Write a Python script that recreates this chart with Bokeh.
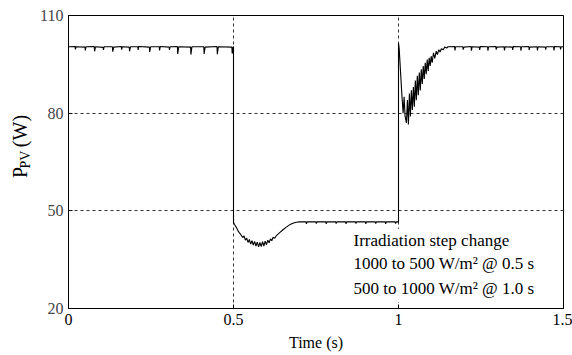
import math
from bokeh.plotting import figure
from bokeh.layouts import row
from bokeh.models import Range1d, FixedTicker, Label, BoxAnnotation, NumeralTickFormatter
from bokeh.embed import file_html
from bokeh.resources import INLINE

# ---------------- data ----------------
x_ticks = [0, 0.5, 1.0, 1.5]
x_tick_format = "0.[0]"          # gives 0, 0.5, 1, 1.5
y_ticks = [20, 50, 80, 110]

# 0 - 0.5 s : 1000 W/m^2, steady ~100 W with small dips
seg1_t = [0, 0.02, 0.021, 0.023, 0.05, 0.051, 0.053, 0.078, 0.079, 0.082,
          0.105, 0.106, 0.108, 0.133, 0.134, 0.137, 0.16, 0.161, 0.163,
          0.184, 0.185, 0.188, 0.21, 0.211, 0.213, 0.245, 0.246, 0.249,
          0.275, 0.276, 0.278, 0.305, 0.306, 0.308, 0.33, 0.331, 0.334,
          0.37, 0.371, 0.374, 0.41, 0.411, 0.414, 0.45, 0.451, 0.454,
          0.495, 0.496, 0.499, 0.5]
seg1_p = [100.4, 100.5, 99.6, 100.4, 100.3, 99.3, 100.4, 100.5, 99.0, 100.4,
          100.2, 99.4, 100.4, 100.4, 98.9, 100.3, 100.5, 99.5, 100.4,
          100.3, 99.0, 100.4, 100.4, 99.4, 100.5, 100.3, 98.8, 100.4,
          100.4, 99.3, 100.5, 100.3, 99.4, 100.4, 100.5, 98.2, 100.4,
          100.3, 98.0, 100.4, 100.4, 98.2, 100.3, 100.5, 98.1, 100.4,
          100.3, 98.3, 100.4, 100.4]

# 0.5 - 1.0 s : 500 W/m^2
seg2_t = [0.5, 0.503, 0.508, 0.513, 0.518, 0.523, 0.528, 0.532, 0.536, 0.540,
          0.544, 0.548, 0.552, 0.556, 0.560, 0.564, 0.568, 0.572, 0.576,
          0.580, 0.584, 0.588, 0.592, 0.596, 0.600, 0.604, 0.608, 0.612,
          0.616, 0.620, 0.625, 0.630, 0.64, 0.65, 0.66, 0.67, 0.68, 0.69,
          0.70, 0.72, 0.721, 0.723, 0.75, 0.751, 0.753, 0.78, 0.781, 0.783,
          0.81, 0.811, 0.813, 0.84, 0.841, 0.843, 0.87, 0.871, 0.873,
          0.90, 0.901, 0.903, 0.93, 0.931, 0.933, 0.96, 0.961, 0.963,
          0.99, 0.991, 0.993, 1.0]
seg2_p = [46.5, 45.8, 45.0, 44.0, 43.2, 42.6, 41.8, 42.3, 41.0, 41.6,
          40.3, 41.2, 39.8, 40.8, 39.5, 40.6, 39.2, 40.4, 38.9,
          40.3, 39.0, 40.5, 39.2, 40.7, 39.6, 41.0, 40.2, 41.4,
          40.8, 41.9, 41.6, 42.4, 43.3, 44.2, 45.0, 45.7, 46.2, 46.5,
          46.6, 46.6, 46.0, 46.6, 46.6, 46.1, 46.6, 46.6, 46.0, 46.6,
          46.6, 46.1, 46.6, 46.6, 46.0, 46.6, 46.6, 46.1, 46.6,
          46.6, 46.0, 46.6, 46.6, 46.1, 46.6, 46.6, 46.0, 46.6,
          46.6, 46.1, 46.6, 46.6]

# 1.0 - 1.5 s : back to 1000 W/m^2
seg3_t = [1.0, 1.002, 1.006, 1.010, 1.014, 1.017, 1.020, 1.024, 1.027, 1.030,
          1.033, 1.036, 1.039, 1.042, 1.045, 1.048, 1.051, 1.054, 1.057,
          1.060, 1.063, 1.066, 1.069, 1.072, 1.075, 1.078, 1.081, 1.084,
          1.087, 1.090, 1.093, 1.096, 1.099, 1.102, 1.106, 1.110, 1.114,
          1.118, 1.122, 1.126, 1.130, 1.136, 1.14, 1.146, 1.15,
          1.17, 1.171, 1.173, 1.195, 1.196, 1.198, 1.22, 1.221, 1.223,
          1.245, 1.246, 1.248, 1.27, 1.271, 1.273, 1.295, 1.296, 1.298,
          1.32, 1.321, 1.323, 1.345, 1.346, 1.348, 1.37, 1.371, 1.373,
          1.395, 1.396, 1.398, 1.42, 1.421, 1.423, 1.445, 1.446, 1.448,
          1.47, 1.471, 1.473, 1.49, 1.491, 1.493, 1.5]
seg3_p = [101.5, 100.0, 93.0, 86.0, 80.0, 85.0, 79.0, 77.0, 84.0, 76.5,
          86.0, 79.0, 87.0, 81.0, 88.0, 82.0, 90.0, 84.0, 91.5,
          85.5, 92.5, 87.0, 93.5, 89.0, 94.5, 90.5, 95.5, 92.0,
          96.5, 93.0, 97.0, 94.5, 97.5, 95.5, 98.5, 96.8, 99.0,
          98.0, 99.5, 98.8, 99.8, 99.5, 100.3, 100.0, 100.4,
          100.5, 99.3, 100.4, 100.4, 99.5, 100.3, 100.5, 99.2, 100.4,
          100.3, 99.4, 100.5, 100.4, 99.2, 100.4, 100.5, 99.5, 100.3,
          100.4, 99.3, 100.4, 100.3, 99.4, 100.5, 100.4, 99.2, 100.4,
          100.5, 99.4, 100.3, 100.4, 99.3, 100.4, 100.3, 99.5, 100.4,
          100.4, 99.3, 100.5, 100.4, 99.6, 100.4, 100.4]

annotation_lines = ["Irradiation step change",
                    "1000 to 500 W/m\u00b2 @ 0.5 s",
                    "500 to 1000 W/m\u00b2 @ 1.0 s"]
y_label_parts = ["P", "PV", "(W)"]

t_all = seg1_t + seg2_t + seg3_t
p_all = seg1_p + seg2_p + seg3_p

FONT = "Liberation Serif"
TICK_FONT = "serif"

# ---------------- main plot ----------------
p = figure(width=536, height=355, output_backend="svg", toolbar_location=None,
           x_range=Range1d(0, 1.5), y_range=Range1d(20, 110),
           min_border_left=32, min_border_right=9, min_border_top=15,
           min_border_bottom=47)
p.background_fill_color = "white"
p.border_fill_color = "white"
p.outline_line_color = "black"
p.outline_line_width = 1

p.xgrid.ticker = FixedTicker(ticks=x_ticks)
p.ygrid.ticker = FixedTicker(ticks=y_ticks)
for g in (p.xgrid, p.ygrid):
    g.grid_line_color = "#333333"
    g.grid_line_dash = "3 3"
    g.grid_line_width = 1

xa = p.xaxis[0]
ya = p.yaxis[0]
xa.ticker = FixedTicker(ticks=x_ticks)
ya.ticker = FixedTicker(ticks=y_ticks)
xa.formatter = NumeralTickFormatter(format=x_tick_format)
for ax in (xa, ya):
    ax.major_label_text_font = TICK_FONT
    ax.major_label_text_font_size = "16px"
    ax.axis_line_color = "black"
    ax.major_tick_line_color = "black"
    ax.major_tick_in = 4
    ax.major_tick_out = 0
    ax.minor_tick_line_color = None
xa.major_label_text_color = "black"
xa.major_label_standoff = 5
xa.axis_label = "Time (s)"
xa.axis_label_standoff = 6
xa.axis_label_text_font = FONT
xa.axis_label_text_font_size = "16px"
xa.axis_label_text_font_style = "normal"
xa.axis_label_text_color = "black"

p.line(t_all, p_all, line_color="black", line_width=1.1)

p.add_layout(BoxAnnotation(left=0.84, right=1.48, bottom=22.0, top=44.5,
                           fill_color="white", fill_alpha=1.0,
                           line_alpha=0.0))
ann_y = [40.77, 33.69, 26.15]
for txt, yy in zip(annotation_lines, ann_y):
    p.add_layout(Label(x=0.8636, y=yy, text=txt, text_font=FONT,
                       text_font_size="17px", text_color="black",
                       text_baseline="middle", text_align="left"))

# ---------------- narrow strip holding the rotated y label ----------------
lab = figure(width=36, height=355, output_backend="svg", toolbar_location=None,
             x_range=Range1d(0, 36), y_range=Range1d(0, 355),
             x_axis_type=None, y_axis_type=None,
             min_border_left=0, min_border_right=0, min_border_top=0,
             min_border_bottom=0)
lab.outline_line_color = None
lab.grid.visible = False
lab.background_fill_color = "white"
lab.border_fill_color = "white"

ang = math.pi / 2
lab_pos = [(19, 158.0, "20px"), (25, 169.5, "14px"), (19, 195.5, "20px")]
for txt, (lx, ly, fs) in zip(y_label_parts, lab_pos):
    lab.add_layout(Label(x=lx, y=ly, text=txt, angle=ang, text_font=FONT,
                         text_font_size=fs, text_color="black",
                         text_align="left", text_baseline="middle"))

layout = row(lab, p, spacing=0)
open("out.html", "w").write(file_html(layout, INLINE))
